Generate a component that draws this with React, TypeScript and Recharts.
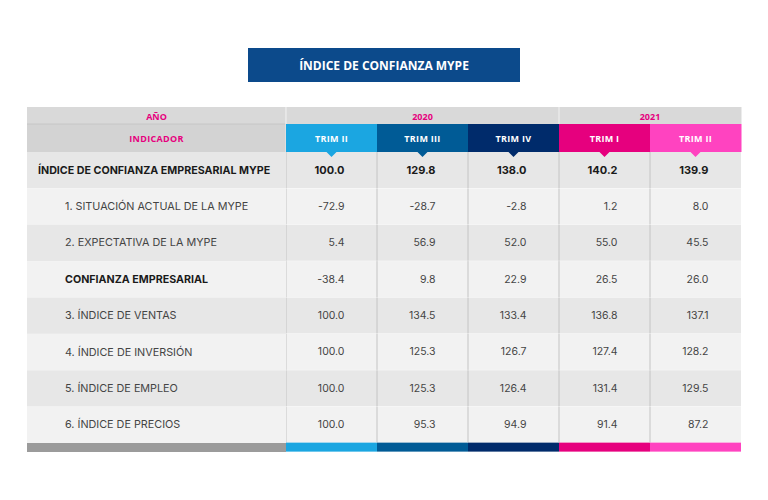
import React from "react";
import { ComposedChart, Bar, XAxis, YAxis, Customized } from "recharts";

// ---------- data ----------
const title = "ÍNDICE DE CONFIANZA MYPE";
const yearHeader = "AÑO";
const indicatorHeader = "INDICADOR";
const columnYears = ["2020", "2020", "2020", "2021", "2021"];
const columnNames = ["TRIM II", "TRIM III", "TRIM IV", "TRIM I", "TRIM II"];
const rowLabels = [
  "ÍNDICE DE CONFIANZA EMPRESARIAL MYPE",
  "1. SITUACIÓN ACTUAL DE LA MYPE",
  "2. EXPECTATIVA DE LA MYPE",
  "CONFIANZA EMPRESARIAL",
  "3. ÍNDICE DE VENTAS",
  "4. ÍNDICE DE INVERSIÓN",
  "5. ÍNDICE DE EMPLEO",
  "6. ÍNDICE DE PRECIOS",
];
const boldRows = [true, false, false, true, false, false, false, false];
const indentRows = [false, true, true, true, true, true, true, true];
const trim2_2020 = [100.0, -72.9, 5.4, -38.4, 100.0, 100.0, 100.0, 100.0];
const trim3_2020 = [129.8, -28.7, 56.9, 9.8, 134.5, 125.3, 125.3, 95.3];
const trim4_2020 = [138.0, -2.8, 52.0, 22.9, 133.4, 126.7, 126.4, 94.9];
const trim1_2021 = [140.2, 1.2, 55.0, 26.5, 136.8, 127.4, 131.4, 91.4];
const trim2_2021 = [139.9, 8.0, 45.5, 26.0, 137.1, 128.2, 129.5, 87.2];
const columns = [trim2_2020, trim3_2020, trim4_2020, trim1_2021, trim2_2021];

// ---------- styles ----------
const FONT = "Inter, 'Open Sans', sans-serif";
const HFONT = "'Open Sans', 'Noto Sans', sans-serif";
const colColors = ["#1ba6e1", "#005b96", "#002b6b", "#e6007e", "#ff43c0"];
const W = 768;
const H = 500;
const M = { top: 107, right: 27, bottom: 48, left: 27 };
const LABEL_W = 259;
const YEAR_H = 17;
const HEAD_H = 28;
const FOOT_H = 9;
const PLOT_L = M.left + LABEL_W;
const PLOT_W = W - M.right - PLOT_L;
const PLOT_T = M.top + YEAR_H + HEAD_H;
const PLOT_H = H - M.bottom - FOOT_H - PLOT_T;
const COL_W = PLOT_W / columns.length;
const ROW_H = PLOT_H / rowLabels.length;
const rowFill = (i: number) => (i % 2 === 0 ? "#e7e7e7" : "#f2f2f2");
const SEP = "#c4c4c4";
const REG_SIZE = 10.8;
const BOLD_SIZE = 10.7;

const data = rowLabels.map((label, i) => {
  const o: any = { label, row: i };
  columns.forEach((c, j) => (o["c" + j] = c[i]));
  return o;
});

const fmt = (v: number) => v.toFixed(1);

const makeShape = (col: number) => (props: any) => {
  const { x, y, width, height, payload } = props;
  const i = payload.row;
  const v = payload["c" + col];
  const strong = i === 0;
  return (
    <g>
      <rect x={x} y={y} width={width} height={height} fill={rowFill(i)} />
      <line x1={x} x2={x} y1={y} y2={y + height} stroke={SEP} strokeWidth={1} />
      <text
        x={x + width / 2 + 13}
        y={y + height / 2}
        textAnchor="end"
        dominantBaseline="central"
        fontFamily={FONT}
        fontSize={strong ? 11 : 10.5}
        fontWeight={strong ? 700 : 400}
        fill={strong ? "#1a1a1a" : "#444444"}
      >
        {fmt(v)}
      </text>
      {i === 0 && (
        <polygon
          points={`${x + width / 2 - 5},${y} ${x + width / 2 + 5},${y} ${x + width / 2},${y + 5}`}
          fill={colColors[col]}
        />
      )}
      {i === rowLabels.length - 1 && (
        <rect x={x} y={y + height} width={width} height={FOOT_H} fill={colColors[col]} />
      )}
    </g>
  );
};

const RowTick = (props: any) => {
  const { y, payload, index } = props;
  const i = typeof index === "number" ? index : rowLabels.indexOf(payload.value);
  const bold = boldRows[i];
  return (
    <g>
      <rect x={M.left} y={y - ROW_H / 2} width={LABEL_W} height={ROW_H} fill={rowFill(i)} />
      <text
        x={indentRows[i] ? 65 : 38}
        y={y}
        dominantBaseline="central"
        fontFamily={FONT}
        fontSize={bold ? BOLD_SIZE : REG_SIZE}
        fontWeight={bold ? 700 : 400}
        fill={bold ? "#1a1a1a" : "#444444"}
      >
        {payload.value}
      </text>
      {i === rowLabels.length - 1 && (
        <rect x={M.left} y={y + ROW_H / 2} width={LABEL_W} height={FOOT_H} fill="#9b9b9b" />
      )}
    </g>
  );
};

const HeadTick = (props: any) => {
  const { x, payload } = props;
  const col = Math.round(payload.value - 0.5);
  const left = x - COL_W / 2;
  const year = columnYears[col];
  const first = columnYears.indexOf(year);
  const last = columnYears.lastIndexOf(year);
  const groupCenter = PLOT_L + ((first + last + 1) / 2) * COL_W;
  return (
    <g>
      <rect x={left} y={M.top} width={COL_W + 0.5} height={YEAR_H} fill="#d9d9d9" />
      {col === first && (
        <line x1={left} x2={left} y1={M.top} y2={M.top + YEAR_H} stroke="#e9e9e9" strokeWidth={1.5} />
      )}
      {col === last && (
        <text
          x={groupCenter}
          y={M.top + YEAR_H / 2 + 0.5}
          textAnchor="middle"
          dominantBaseline="central"
          fontFamily={HFONT}
          fontSize={9}
          fontWeight={700}
          fill="#e6007e"
        >
          {year}
        </text>
      )}
      <rect x={left} y={M.top + YEAR_H} width={COL_W + 0.5} height={HEAD_H} fill={colColors[col]} />
      <text
        x={x}
        y={M.top + YEAR_H + HEAD_H / 2}
        textAnchor="middle"
        dominantBaseline="central"
        fontFamily={HFONT}
        fontSize={9}
        fontWeight={700}
        letterSpacing={0.3}
        fill="#ffffff"
      >
        {columnNames[col]}
      </text>
    </g>
  );
};

const LabelHeader = () => (
  <g>
    <rect x={M.left} y={M.top} width={LABEL_W} height={YEAR_H} fill="#d9d9d9" />
    <rect x={M.left} y={M.top + YEAR_H} width={LABEL_W} height={HEAD_H} fill="#d3d3d3" />
    <line x1={M.left} x2={PLOT_L} y1={M.top + YEAR_H} y2={M.top + YEAR_H} stroke="#c6c6c6" strokeWidth={1} />
    <line x1={PLOT_L} x2={PLOT_L} y1={M.top} y2={M.top + YEAR_H + HEAD_H} stroke="#e3e3e3" strokeWidth={1.5} />
    <text
      x={M.left + LABEL_W / 2}
      y={M.top + YEAR_H / 2 + 0.5}
      textAnchor="middle"
      dominantBaseline="central"
      fontFamily={HFONT}
      fontSize={9}
      fontWeight={700}
      fill="#e6007e"
    >
      {yearHeader}
    </text>
    <text
      x={M.left + LABEL_W / 2}
      y={M.top + YEAR_H + HEAD_H / 2}
      textAnchor="middle"
      dominantBaseline="central"
      fontFamily={HFONT}
      fontSize={9}
      fontWeight={700}
      letterSpacing={0.3}
      fill="#e6007e"
    >
      {indicatorHeader}
    </text>
  </g>
);

export default function App() {
  return (
    <div style={{ position: "absolute", left: 0, top: 0, width: W, height: H, background: "#ffffff" }}>
      <div
        style={{
          position: "absolute",
          left: 248,
          top: 48,
          width: 272,
          height: 34,
          background: "#0c4a8b",
          color: "#ffffff",
          fontFamily: HFONT,
          fontWeight: 700,
          fontSize: 12,
          display: "flex",
          alignItems: "center",
          justifyContent: "center",
        }}
      >
        {title}
      </div>
      <div style={{ position: "absolute", left: 0, top: 0 }}>
        <ComposedChart
          width={W}
          height={H}
          data={data}
          layout="vertical"
          margin={{ top: M.top, right: M.right, bottom: M.bottom + FOOT_H, left: M.left }}
          barCategoryGap={0}
          barGap={0}
        >
          <YAxis
            type="category"
            dataKey="label"
            width={LABEL_W}
            axisLine={false}
            tickLine={false}
            interval={0}
            tick={<RowTick />}
          />
          {columns.map((_, j) => (
            <Bar
              key={j}
              dataKey={() => 1}
              stackId="t"
              isAnimationActive={false}
              shape={makeShape(j)}
            />
          ))}
          <XAxis
            type="number"
            orientation="top"
            domain={[0, columns.length]}
            ticks={columns.map((_, j) => j + 0.5)}
            height={YEAR_H + HEAD_H}
            axisLine={false}
            tickLine={false}
            interval={0}
            allowDataOverflow
            tick={<HeadTick />}
          />
          <Customized component={LabelHeader} />
        </ComposedChart>
      </div>
    </div>
  );
}
